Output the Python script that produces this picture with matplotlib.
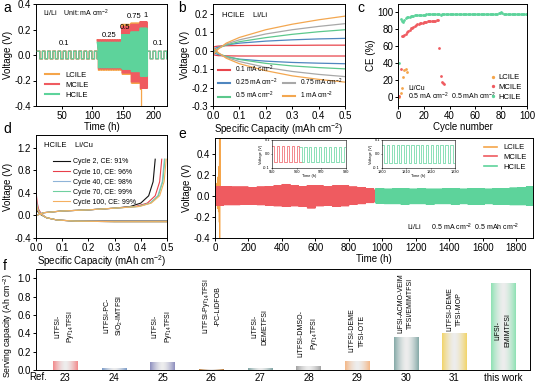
import numpy as np
import matplotlib
matplotlib.use("Agg")
import matplotlib.pyplot as plt
from matplotlib.lines import Line2D
from matplotlib.colors import to_rgb

plt.rcParams["font.family"] = ["Liberation Sans", "DejaVu Sans"]
plt.rcParams["mathtext.fontset"] = "custom"
plt.rcParams["mathtext.rm"] = "Liberation Sans"
plt.rcParams["font.size"] = 7
plt.rcParams["axes.linewidth"] = 0.7
plt.rcParams["axes.unicode_minus"] = False
plt.rcParams["xtick.major.size"] = 2
plt.rcParams["ytick.major.size"] = 2
plt.rcParams["xtick.major.width"] = 0.7
plt.rcParams["ytick.major.width"] = 0.7
plt.rcParams["xtick.major.pad"] = 1.5
plt.rcParams["ytick.major.pad"] = 1.5

C_L = "#f5a54a"
C_M = "#ef5b60"
C_H = "#5dd39b"

# ---- a: rate test, Li/Li ----
a_edges = [10, 108, 148, 163, 178, 190, 222]
a_period = [8.5, 4.0, 1.5, 1.5, 1.2, 9.0]
a_rates = ["0.1", "0.25", "0.5", "0.75", "1", "0.1"]
a_H_up = [0.03, 0.10, 0.16, 0.18, 0.21, 0.03]
a_H_dn = [-0.03, -0.10, -0.11, -0.13, -0.165, -0.03]
a_M_up = [0.03, 0.12, 0.22, 0.24, 0.26, 0.03]
a_M_dn = [-0.03, -0.11, -0.14, -0.21, -0.26, -0.03]
a_L_edges = [10, 108, 148, 163, 178, 181]
a_L_period = [8.5, 4.0, 1.5, 1.5, 1.2]
a_L_up = [0.03, 0.12, 0.24, 0.25, 0.26]
a_L_dn = [-0.03, -0.12, -0.15, -0.22, -0.27]
a_L_fail = -0.45

# ---- b: voltage profiles, HCILE ----
b_cap = [0, 0.01, 0.02, 0.05, 0.1, 0.2, 0.3, 0.4, 0.5]
b_labels = ["0.1 mA cm$^{-2}$", "0.25 mA cm$^{-2}$", "0.5 mA cm$^{-2}$",
            "0.75 mA cm$^{-2}$", "1 mA cm$^{-2}$"]
b_colors = ["#e8454c", "#4f86bf", "#5cc88c", "#a8a8a8", "#f3a750"]
b_up = [
    [0.02, 0.024, 0.026, 0.028, 0.029, 0.03, 0.03, 0.031, 0.031],
    [0.01, 0.015, 0.02, 0.032, 0.042, 0.053, 0.06, 0.065, 0.068],
    [-0.01, 0.005, 0.015, 0.032, 0.05, 0.072, 0.09, 0.104, 0.115],
    [-0.015, 0.0, 0.012, 0.037, 0.06, 0.092, 0.115, 0.133, 0.148],
    [-0.02, -0.005, 0.01, 0.042, 0.073, 0.115, 0.145, 0.169, 0.189],
]
b_dn = [
    [-0.02, -0.024, -0.026, -0.027, -0.028, -0.028, -0.028, -0.028, -0.028],
    [-0.01, -0.015, -0.02, -0.032, -0.045, -0.056, -0.063, -0.067, -0.07],
    [0.01, -0.005, -0.015, -0.03, -0.047, -0.068, -0.082, -0.091, -0.098],
    [0.015, 0.0, -0.012, -0.035, -0.058, -0.09, -0.112, -0.128, -0.14],
    [0.02, 0.005, -0.01, -0.04, -0.07, -0.108, -0.136, -0.155, -0.17],
]

# ---- c: CE, Li/Cu ----
c_L_cyc = [1, 2, 3, 4, 5, 6, 7]
c_L_ce = [0, 5, 10, 23, 32, 33, 29]
c_M_cyc = list(range(1, 37))
c_M_ce = [1, 33, 72, 72.5, 73.5, 75, 76.5, 78, 79.5, 81, 82, 83, 84, 85, 86, 86.5,
          87, 87.5, 88, 88.5, 89, 89, 89.5, 89.5, 89.8, 90, 90, 90.2, 90.3, 90.5,
          91, 58, 24, 17, 16, 15]
c_H_cyc = list(range(1, 101))
c_H_ce = [40, 92, 90, 89, 91, 93, 94, 94.5, 95, 95.5, 96, 96, 96.5, 96.5, 97, 97,
          97, 97.5, 97.5, 97.5, 97.5, 97.8, 98, 97.8, 98, 98, 97.6, 97.8, 98, 98,
          98, 97.8, 97.5, 97.6, 97.8, 98, 98, 97.9, 97.8, 98, 98, 98.2, 98, 97.8,
          98, 98.2, 98, 98.1, 98, 98.2, 98, 98, 98.2, 98, 97.9, 98, 98.2, 98.3, 98,
          98, 98.1, 98, 98.2, 98.3, 98, 98.1, 98, 98.2, 98.4, 98.2, 98, 98.2, 98.4,
          98.2, 98.5, 98.3, 98.5, 99, 99.5, 100.5, 99, 98.5, 98.3, 98.2, 98, 98.3,
          98.5, 98.4, 98.2, 98.3, 98.5, 98.3, 98.2, 98.5, 98.4, 98.2, 98.5, 98.3,
          98.2, 98]

# ---- d: Li/Cu profiles, HCILE ----
d_labels = ["Cycle 2, CE: 91%", "Cycle 10, CE: 96%", "Cycle 40, CE: 98%",
            "Cycle 70, CE: 99%", "Cycle 100, CE: 99%"]
d_colors = ["#111111", "#e8404a", "#8fb4d8", "#6fd0a0", "#f5b060"]
d_plate_cap = [0, 0.005, 0.01, 0.02, 0.04, 0.08, 0.15, 0.3, 0.5]
d_plate_v = [
    [0.12, 0.08, 0.05, 0.01, -0.04, -0.08, -0.1, -0.1, -0.1],
    [0.42, 0.22, 0.11, 0.03, -0.04, -0.08, -0.1, -0.11, -0.11],
    [0.32, 0.16, 0.08, 0.02, -0.04, -0.08, -0.1, -0.11, -0.11],
    [0.26, 0.13, 0.07, 0.02, -0.04, -0.08, -0.1, -0.11, -0.11],
    [0.22, 0.12, 0.06, 0.02, -0.04, -0.08, -0.1, -0.11, -0.11],
]
d_strip_v = [0.0, 0.05, 0.08, 0.1, 0.13, 0.16, 0.22, 0.35, 0.6, 1.0]
d_strip_cap = [
    [0, 0.03, 0.1, 0.2, 0.3, 0.36, 0.40, 0.43, 0.447, 0.455],
    [0, 0.03, 0.1, 0.2, 0.3, 0.38, 0.425, 0.455, 0.472, 0.48],
    [0, 0.03, 0.1, 0.2, 0.3, 0.39, 0.435, 0.465, 0.482, 0.49],
    [0, 0.03, 0.1, 0.2, 0.3, 0.39, 0.437, 0.467, 0.484, 0.492],
    [0, 0.03, 0.1, 0.2, 0.3, 0.395, 0.44, 0.472, 0.489, 0.497],
]

# ---- e: long cycling, Li/Li ----
e_block = 50
e_period = 2.0
e_M_start = 0
e_M_up = [0.09, 0.09, 0.085, 0.085, 0.08, 0.085, 0.09, 0.095, 0.11, 0.1,
          0.09, 0.1, 0.095, 0.09, 0.095, 0.1, 0.085, 0.08, 0.07, 0.055]
e_M_dn = [-0.09, -0.085, -0.085, -0.08, -0.08, -0.085, -0.09, -0.095, -0.1, -0.095,
          -0.1, -0.115, -0.095, -0.09, -0.1, -0.095, -0.08, -0.075, -0.065, -0.05]
e_H_start = 960
e_H_up = [0.07, 0.065, 0.07, 0.07, 0.065, 0.07, 0.065, 0.065, 0.07, 0.07,
          0.065, 0.07, 0.07, 0.065, 0.07, 0.07, 0.075, 0.08, 0.09]
e_H_dn = [-0.07, -0.075, -0.075, -0.08, -0.075, -0.075, -0.08, -0.075, -0.075,
          -0.08, -0.075, -0.08, -0.08, -0.075, -0.08, -0.08, -0.085, -0.085, -0.09]
e_L_t = [0, 3, 6, 9, 12, 15, 18, 21, 24, 26, 27, 28, 29, 30]
e_L_v = [0.05, -0.05, 0.08, -0.08, 0.12, -0.12, 0.18, -0.15, 0.28, -0.25, 0.6, -0.45, 0.6, 0.0]
ins1_M = (950, 961, 0.06, -0.06)
ins1_H = (961, 981, 0.05, -0.06)
ins2_H = (1800, 1830, 0.065, -0.065)

# ---- f: serving capacity comparison ----
f_refs = ["23", "24", "25", "26", "27", "28", "29", "30", "31", "this work"]
f_vals = [0.10, 0.025, 0.09, 0.015, 0.02, 0.04, 0.10, 0.36, 0.40, 0.95]
f_names = ["LiTFSI-\nPyr$_{14}$TFSI", "LiTFSI-PC-\nSiO$_2$-IMTFSI",
           "LiTFSI-\nPyr$_{14}$TFSI", "LiTFSI-Pyr$_{14}$TFSI\n-PC-LiDFOB",
           "LiTFSI-\nDEMETFSI", "LiTFSI-DMSO-\nPyr$_{14}$TFSI",
           "LiTFSI-DEME\nTFSI-OTE", "LiFSI-ACMO-VEIM\nTFSI/EMIMTFSI",
           "LiTFSI-DEME\nTFSI-MOP", "LiFSI-\nEMIMTFSI"]
f_colors = ["#f28a8c", "#7d9cc8", "#8e8fbf", "#b87a3a", "#7fa3a3", "#a3a3a3",
            "#f4b888", "#86aaa8", "#f2d46a", "#8fe2b4"]
f_name_y = [0.47, 0.6, 0.47, 0.7, 0.47, 0.4, 0.43, 0.73, 0.66, 0.43]


def sq(t0, t1, period, up, dn):
    n = max(1, int(round((t1 - t0) / period)))
    edges = t0 + np.arange(2 * n + 1) * period / 2
    t = np.repeat(edges, 2)[1:-1]
    v = np.tile([up, up, dn, dn], n)
    return t, v


def segs(edges, periods, ups, dns):
    ts, vs = [], []
    for i in range(len(periods)):
        t, v = sq(edges[i], edges[i + 1], periods[i], ups[i], dns[i])
        ts.append(t)
        vs.append(v)
    return np.concatenate(ts), np.concatenate(vs)


def blocks(start, ups, dns):
    edges = [start + i * e_block for i in range(len(ups) + 1)]
    return segs(edges, [e_period] * len(ups), ups, dns)


W, H = 536, 385
fig = plt.figure(figsize=(W / 100, H / 100), dpi=100)


def px_axes(x0, y0, x1, y1):
    return fig.add_axes([x0 / W, 1 - y1 / H, (x1 - x0) / W, (y1 - y0) / H])


# a
ax = px_axes(36, 4, 167, 106)
tL, vL = segs(a_L_edges, a_L_period, a_L_up, a_L_dn)
tL = np.append(tL, tL[-1])
vL = np.append(vL, a_L_fail)
ax.plot(tL, vL, color=C_L, lw=0.9, zorder=1)
tM, vM = segs(a_edges, a_period, a_M_up, a_M_dn)
ax.plot(tM, vM, color=C_M, lw=0.9, zorder=2)
tH, vH = segs(a_edges, a_period, a_H_up, a_H_dn)
ax.plot(tH, vH, color=C_H, lw=0.9, zorder=3)
for x, y, s in zip([53, 127, 153, 169, 187, 207], [0.09, 0.155, 0.215, 0.3, 0.31, 0.09], a_rates):
    ax.text(x, y, s, fontsize=5.5, ha="center", va="center")
ax.text(20, 0.33, "Li/Li    Unit: mA cm$^{-2}$", fontsize=5, va="center")
ax.set_xlim(8, 222)
ax.set_ylim(-0.4, 0.4)
ax.set_xticks([50, 100, 150, 200])
ax.set_yticks([-0.4, -0.2, 0.0, 0.2, 0.4])
ax.set_xlabel("Time (h)", labelpad=0.5)
ax.set_ylabel("Voltage (V)", labelpad=1)
hs = [Line2D([], [], color=c, lw=1.5) for c in (C_L, C_M, C_H)]
ax.legend(hs, ["LCILE", "MCILE", "HCILE"], loc="lower left", frameon=False,
          fontsize=5.5, handlelength=1.8, labelspacing=0.35, borderaxespad=0.3,
          bbox_to_anchor=(0.03, 0.02))
fig.text(3 / W, 1 - 12 / H, "a", fontsize=10)

# b
ax = px_axes(213, 4, 345, 106)
for up, dn, c in zip(b_up, b_dn, b_colors):
    ax.plot(b_cap, up, color=c, lw=0.9)
    ax.plot(b_cap, dn, color=c, lw=0.9)
hs = [Line2D([], [], color=c, lw=1.5) for c in b_colors]
blank = Line2D([], [], color="none")
ax.legend([hs[0], hs[1], hs[2], blank, hs[3], hs[4]],
          [b_labels[0], b_labels[1], b_labels[2], "", b_labels[3], b_labels[4]],
          ncol=2, loc="lower left", frameon=False, fontsize=4.8, handlelength=1.8,
          labelspacing=0.3, columnspacing=0.8, borderaxespad=0.3)
ax.text(0.035, 0.195, "HCILE    Li/Li", fontsize=5.5, va="center")
ax.set_xlim(0, 0.5)
ax.set_ylim(-0.3, 0.255)
ax.set_xticks([0.0, 0.1, 0.2, 0.3, 0.4, 0.5])
ax.set_yticks([-0.3, -0.2, -0.1, 0.0, 0.1, 0.2])
ax.set_xlabel("Specific Capacity (mAh cm$^{-2}$)", labelpad=0.5)
ax.set_ylabel("Voltage (V)", labelpad=1)
fig.text(178 / W, 1 - 12 / H, "b", fontsize=10)

# c
ax = px_axes(398, 4, 527, 106)
ax.plot(c_L_cyc, c_L_ce, "o", color=C_L, ms=2, mew=0, label="LCILE")
ax.plot(c_M_cyc, c_M_ce, "o", color=C_M, ms=2, mew=0, label="MCILE")
ax.plot(c_H_cyc, c_H_ce, "o", color=C_H, ms=2, mew=0, label="HCILE")
ax.legend(loc="lower right", frameon=False, fontsize=5.5, handlelength=0.8,
          handletextpad=0.3, labelspacing=0.3, markerscale=1.2, borderaxespad=0.3)
ax.text(8, 10, "Li/Cu", fontsize=5, va="center")
ax.text(8, 0, "0.5 mA cm$^{-2}$  0.5 mAh cm$^{-2}$", fontsize=5, va="center")
ax.set_xlim(0, 100)
ax.set_ylim(-11, 110)
ax.set_xticks([0, 20, 40, 60, 80, 100])
ax.set_yticks([0, 20, 40, 60, 80, 100])
ax.set_xlabel("Cycle number", labelpad=0.5)
ax.set_ylabel("CE (%)", labelpad=1)
fig.text(357 / W, 1 - 12 / H, "c", fontsize=10)

# d
ax = px_axes(36, 135, 167, 238)
for pv, sc, c, lab in zip(d_plate_v, d_strip_cap, d_colors, d_labels):
    ax.plot(d_plate_cap, pv, color=c, lw=0.8)
    ax.plot(sc, d_strip_v, color=c, lw=0.8, label=lab)
ax.legend(loc="upper left", frameon=False, fontsize=5, handlelength=2.4,
          handletextpad=0.5, labelspacing=0.45, bbox_to_anchor=(0.11, 0.8),
          borderaxespad=0)
ax.text(0.03, 1.25, "HCILE    Li/Cu", fontsize=5.5, va="center")
ax.set_xlim(0, 0.5)
ax.set_ylim(-0.4, 1.43)
ax.set_xticks([0.0, 0.1, 0.2, 0.3, 0.4, 0.5])
ax.set_yticks([-0.4, 0.0, 0.4, 0.8, 1.2])
ax.set_xlabel("Specific Capacity (mAh cm$^{-2}$)", labelpad=0.5)
ax.set_ylabel("Voltage (V)", labelpad=1)
fig.text(3 / W, 1 - 133 / H, "d", fontsize=10)

# e
ax = px_axes(215, 138, 533, 238)
ax.plot(e_L_t, e_L_v, color=C_L, lw=0.8, zorder=1)
tM, vM = blocks(e_M_start, e_M_up, e_M_dn)
ax.plot(tM, vM, color=C_M, lw=0.5, zorder=2)
tH, vH = blocks(e_H_start, e_H_up, e_H_dn)
ax.plot(tH, vH, color=C_H, lw=0.5, zorder=3)
hs = [Line2D([], [], color=c, lw=1.2) for c in (C_L, C_M, C_H)]
ax.legend(hs, ["LCILE", "MCILE", "HCILE"], loc="upper right", frameon=False,
          fontsize=5.5, handlelength=1.8, labelspacing=0.3, borderaxespad=0.4)
ax.text(1150, -0.3, "Li/Li      0.5 mA cm$^{-2}$  0.5 mAh cm$^{-2}$", fontsize=5, va="center")
ax.set_xlim(0, 1900)
ax.set_ylim(-0.4, 0.55)
ax.set_xticks(range(0, 1801, 200))
ax.set_yticks([-0.4, -0.2, 0.0, 0.2, 0.4])
ax.set_xlabel("Time (h)", labelpad=0.5)
ax.set_ylabel("Voltage (V)", labelpad=1)
fig.text(178 / W, 1 - 138 / H, "e", fontsize=10)


def inset(x0, x1, parts, xt):
    ia = px_axes(x0, 140, x1, 168)
    for (t0, t1, up, dn), c in parts:
        t, v = sq(t0, t1, e_period, up, dn)
        ia.plot(t, v, color=c, lw=0.5)
    ia.set_xlim(xt[0], xt[-1])
    ia.set_ylim(-0.1, 0.1)
    ia.set_xticks(xt)
    ia.set_yticks([-0.1, 0.0, 0.1])
    ia.tick_params(labelsize=2.8, length=1, width=0.4, pad=0.5)
    for s in ia.spines.values():
        s.set_linewidth(0.4)
    ia.set_xlabel("Time (h)", fontsize=2.8, labelpad=0)
    ia.set_ylabel("Voltage (V)", fontsize=2.8, labelpad=0)


inset(272, 346, [(ins1_M, C_M), (ins1_H, C_H)], [950, 960, 970, 980])
inset(382, 455, [(ins2_H, C_H)], [1800, 1810, 1820, 1830])

# f
ax = px_axes(36, 269, 530, 370)
x = np.arange(len(f_refs))
bars = ax.bar(x, f_vals, width=0.5, color=f_colors, zorder=2)
g = np.abs(np.linspace(-1, 1, 64)) ** 1.6
for b, c in zip(bars, f_colors):
    rgb = np.array(to_rgb(c))
    mid = np.array([0.93, 0.93, 0.93])
    img = mid[None, :] * (1 - g[:, None]) + rgb[None, :] * g[:, None]
    im = ax.imshow(img[None, :, :], extent=[b.get_x(), b.get_x() + b.get_width(), 0, b.get_height()],
                   aspect="auto", zorder=3)
    im.set_clip_path(b)
for xi, s, y in zip(x, f_names, f_name_y):
    ax.text(xi, y, s, rotation=90, ha="center", va="center", fontsize=5,
            linespacing=1.6, zorder=4)
ax.set_xlim(-0.6, 9.55)
ax.set_ylim(0, 1.1)
ax.set_xticks(x)
ax.set_xticklabels(f_refs)
ax.tick_params(axis="x", length=0, pad=2)
ax.set_yticks([0.0, 0.2, 0.4, 0.6, 0.8, 1.0])
ax.set_ylabel("Serving capacity (Ah cm$^{-2}$)", fontsize=6.2, labelpad=1)
ax.yaxis.set_label_coords(-0.042, 0.44)
ax.text(-0.55, -0.025, "Ref.", ha="center", va="top", fontsize=7)
fig.text(3 / W, 1 - 270 / H, "f", fontsize=10)

fig.savefig("out.png", dpi=100)
